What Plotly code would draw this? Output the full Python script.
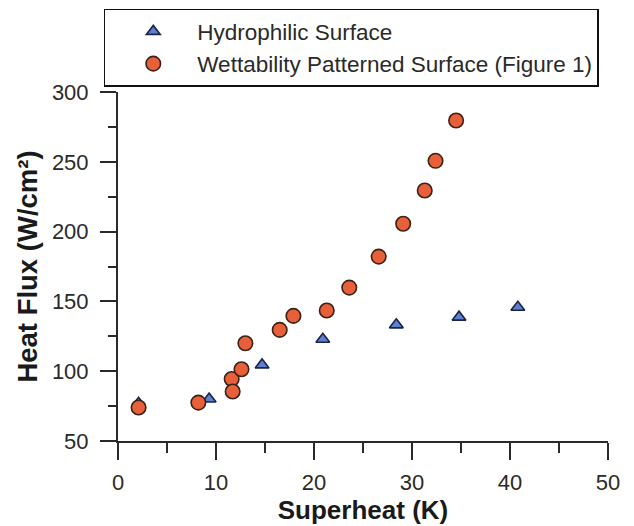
import plotly.graph_objects as go

# Hydrophilic surface (triangles)
hydro_superheat = [2.1, 9.3, 14.7, 20.9, 28.4, 34.8, 40.8]
hydro_flux = [77.0, 80.1, 104.5, 122.9, 133.2, 138.7, 145.8]

# Wettability patterned surface (circles)
wett_superheat = [2.1, 8.2, 11.6, 11.7, 12.6, 13.0, 16.5, 17.9, 21.3, 23.6,
                  26.6, 29.1, 31.3, 32.4, 34.5]
wett_flux = [74.0, 77.5, 94.4, 85.5, 101.4, 120.0, 129.6, 139.6, 143.5, 159.9,
             182.1, 205.6, 229.4, 250.7, 279.6]

x_ticks = [0, 10, 20, 30, 40, 50]
y_ticks = [50, 100, 150, 200, 250, 300]

FONT = "Liberation Sans, Arial, sans-serif"
AXIS_COLOR = "#2a2a2a"

fig = go.Figure()
fig.add_trace(go.Scatter(
    x=hydro_superheat, y=hydro_flux, mode="markers",
    name="Hydrophilic Surface",
    marker=dict(symbol="triangle-up", size=12, color="#5b80d2",
                line=dict(color="#1c2545", width=1.6)),
))
fig.add_trace(go.Scatter(
    x=wett_superheat, y=wett_flux, mode="markers",
    name="Wettability Patterned Surface (Figure 1)",
    marker=dict(symbol="circle", size=14.5, color="#e8603a",
                line=dict(color="#3a2216", width=1.6)),
))

fig.update_layout(
    width=634, height=526,
    margin=dict(l=118, r=26, t=92, b=85, autoexpand=False),
    paper_bgcolor="white", plot_bgcolor="white",
    font=dict(family=FONT, size=22, color="#2a2a2a"),
    showlegend=True,
    legend=dict(
        x=-0.029, y=1.2385, xanchor="left", yanchor="top",
        bordercolor="#111111", borderwidth=1.5, bgcolor="white",
        font=dict(family=FONT, size=22.5, color="#2a2a2a"),
        itemwidth=78, tracegroupgap=0, indentation=4,
    ),
)

fig.update_xaxes(
    range=[0, 50], tickvals=x_ticks, ticktext=[str(v) for v in x_ticks],
    showline=True, linecolor=AXIS_COLOR, linewidth=2,
    ticks="outside", ticklen=17, tickwidth=2, tickcolor=AXIS_COLOR,
    minor=dict(dtick=5, ticks="outside", ticklen=10, tickwidth=2,
               tickcolor=AXIS_COLOR, showgrid=False),
    showgrid=False, zeroline=False, mirror=False, automargin=False,
    tickfont=dict(size=22), ticklabelstandoff=4,
    title=dict(text="<b>Superheat (K)</b>", font=dict(size=26, color="#1a1a1a"),
               standoff=0),
)
fig.update_yaxes(
    range=[50, 300], tickvals=y_ticks, ticktext=[str(v) for v in y_ticks],
    showline=True, linecolor=AXIS_COLOR, linewidth=2,
    ticks="outside", ticklen=16, tickwidth=2, tickcolor=AXIS_COLOR,
    minor=dict(dtick=25, ticks="outside", ticklen=8, tickwidth=2,
               tickcolor=AXIS_COLOR, showgrid=False),
    showgrid=False, zeroline=False, mirror=False, automargin=False,
    tickfont=dict(size=22), ticklabelstandoff=7,
    title=dict(text="<b>Heat Flux (W/cm²)</b>", font=dict(size=27.5, color="#1a1a1a"),
               standoff=6),
)

fig.write_html("out.html")
